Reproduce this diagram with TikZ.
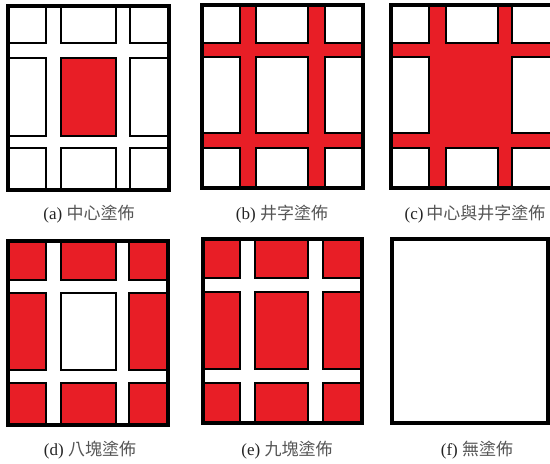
\documentclass[tikz,border=0pt]{standalone}
\usepackage{fontspec}
\setmainfont{Liberation Serif}
\newfontfamily\cjk{Noto Sans CJK TC}
\definecolor{pred}{RGB}{232,30,38}
\definecolor{txt}{RGB}{35,35,35}
\definecolor{cjktxt}{RGB}{85,85,85}
\newcommand\cjklab[1]{{\cjk\color{cjktxt}#1}}
\begin{document}
\begin{tikzpicture}[x=1pt,y=-1pt,
  cellbox/.style={draw=black,line width=2.8pt},
  outerbox/.style={draw=black,line width=3.3pt},
  caption/.style={font=\fontsize{17}{20}\selectfont,text=txt,inner sep=0pt,anchor=center}]
\useasboundingbox (0,0) rectangle (550,464);
\fill[white] (0,0) rectangle (550,464);
\begin{scope}
\clip (0,0) rectangle (550,464);
% (a) centre painted
\fill[white] (8,6) rectangle (169,190);
\foreach \xa/\xb in {8/46,61/116,130/169}
  \foreach \ya/\yb in {6/43,58/136,148/190}
    \draw[cellbox,fill=white] (\xa,\ya) rectangle (\xb,\yb);
\draw[cellbox,fill=pred] (61,58) rectangle (116,136);
\draw[outerbox] (8,6) rectangle (169,190);
% (b) grid painted
\fill[pred] (202,5) rectangle (363,188);
\foreach \xa/\xb in {202/240,256/308,325/363}
  \foreach \ya/\yb in {5/43,57/133,148/188}
    \draw[cellbox,fill=white] (\xa,\ya) rectangle (\xb,\yb);
\draw[outerbox] (202,5) rectangle (363,188);
% (c) centre and grid painted
\fill[pred] (391,5) rectangle (553,188);
\foreach \xa/\xb in {391/429,446/498,512/553}
  \foreach \ya/\yb in {5/43,57/133,148/188}
    \draw[cellbox,fill=white] (\xa,\ya) rectangle (\xb,\yb);
\fill[pred] (444.4,55.4) rectangle (499.6,134.6);
\draw[outerbox] (391,5) rectangle (553,188);
% (d) eight blocks painted
\fill[white] (8,241) rectangle (168,425);
\foreach \xa/\xb in {8/46,61/116,129/168}
  \foreach \ya/\yb in {241/280,293/370,383/425}
    \draw[cellbox,fill=pred] (\xa,\ya) rectangle (\xb,\yb);
\draw[cellbox,fill=white] (61,293) rectangle (116,370);
\draw[outerbox] (8,241) rectangle (168,425);
% (e) nine blocks painted
\fill[white] (203,239) rectangle (362,423);
\foreach \xa/\xb in {203/240,255/308,323/362}
  \foreach \ya/\yb in {239/278,292/369,383/423}
    \draw[cellbox,fill=pred] (\xa,\ya) rectangle (\xb,\yb);
\draw[outerbox] (203,239) rectangle (362,423);
% (f) not painted
\draw[outerbox,fill=white] (392,239) rectangle (548,423);
\end{scope}
\node[caption] (la) at (89,214) {(a) \cjklab{中心塗佈}};
\node[caption] (lb) at (282,214) {(b) \cjklab{井字塗佈}};
\node[caption] (lc) at (475,214) {(c)\,\cjklab{中心與井字塗佈}};
\node[caption] (ld) at (90,450) {(d) \cjklab{八塊塗佈}};
\node[caption] (le) at (287,450) {(e) \cjklab{九塊塗佈}};
\node[caption] (lf) at (477,450) {(f) \cjklab{無塗佈}};
\end{tikzpicture}
\end{document}
